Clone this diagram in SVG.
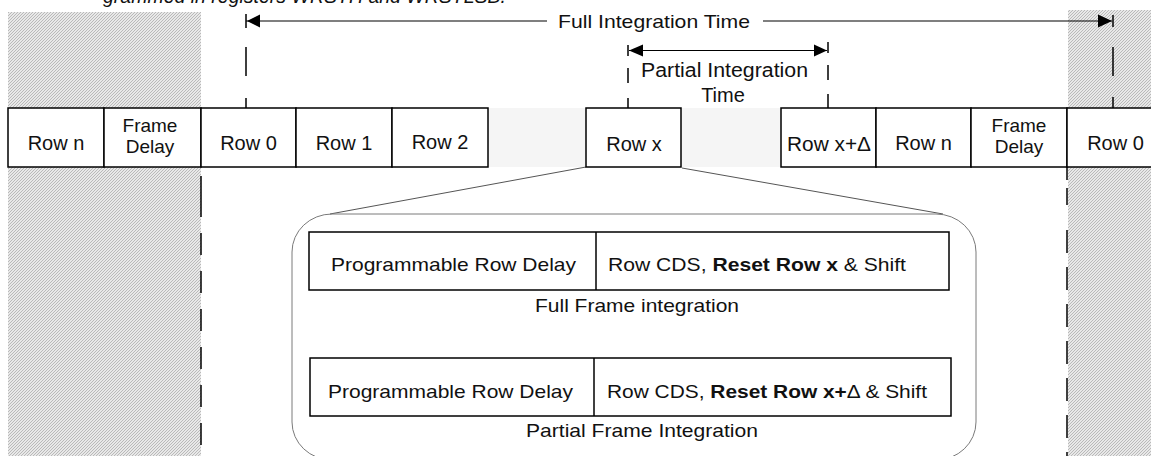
<svg xmlns="http://www.w3.org/2000/svg" width="1151" height="456" viewBox="0 0 1151 456">
<style>
text{font-family:"Liberation Sans",Arial,sans-serif;fill:#111;}
.lbl{font-size:20px;text-anchor:middle;}
.fd{font-size:19px;text-anchor:middle;}
.in{font-size:18.5px;}
.box{fill:#fff;stroke:#000;stroke-width:1.5;}
.dash{stroke:#000;stroke-width:1.5;fill:none;}
.thin{stroke:#000;stroke-width:1.2;fill:none;}
.gap{fill:#f5f5f5;}
.hatch{fill:url(#hp);}
</style>
<defs>
<pattern id="hp" width="3" height="3" patternUnits="userSpaceOnUse">
<rect width="3" height="3" fill="#e8e8e8"/>
<path d="M-1,1 l2,-2 M0,3 l3,-3 M2,4 l2,-2" stroke="#adadad" stroke-width="0.8"/>
</pattern>
</defs>
<text x="103" y="3" font-size="20" font-style="italic" textLength="403" lengthAdjust="spacingAndGlyphs">grammed in registers WRSTH and WRSTLSB.</text>
<g id="hatch-left"><rect class="hatch" x="8" y="12" width="193" height="444"/></g>
<g id="hatch-right"><rect class="hatch" x="1068" y="10" width="83" height="446"/></g>
<g id="gaps">
<rect class="gap" x="488" y="108" width="98" height="59"/>
<rect class="gap" x="681" y="108" width="100" height="59"/>
</g>
<g id="connectors">
<line class="dash" x1="246" y1="14" x2="246" y2="28"/>
<line class="dash" x1="246" y1="47" x2="246" y2="108" stroke-dasharray="29 22"/>
<line class="dash" x1="1113" y1="15" x2="1113" y2="27"/>
<line class="dash" x1="1113" y1="47" x2="1113" y2="108" stroke-dasharray="29 21"/>
<line class="dash" x1="628" y1="45" x2="628" y2="56"/>
<line class="dash" x1="628" y1="68" x2="628" y2="108" stroke-dasharray="15 15"/>
<line class="dash" x1="828" y1="42" x2="828" y2="53"/>
<line class="dash" x1="828" y1="65" x2="828" y2="108" stroke-dasharray="15 14"/>
<line class="dash" x1="201" y1="176" x2="201" y2="456" stroke-dasharray="41 16 22 16 22 16 22 16 22 16 22 16 22 16"/>
<line class="dash" x1="1067" y1="167" x2="1067" y2="456" stroke-dasharray="13 8 17 25 23 14 23 14 23 14 23 14 23 14 23 14 23"/>
<line class="thin" x1="246" y1="21" x2="547" y2="21"/>
<line class="thin" x1="763" y1="21" x2="1112" y2="21"/>
<polygon points="247,21 260,14.5 260,27.5" fill="#000"/>
<polygon points="1112,21 1098,14.5 1098,27.5" fill="#000"/>
<line class="thin" x1="629" y1="50.5" x2="827" y2="50.5"/>
<polygon points="629,50.5 643,44.5 643,56.5" fill="#000"/>
<polygon points="827,50.5 814,44.5 814,56.5" fill="#000"/>
<line x1="586" y1="167" x2="330" y2="214" stroke="#555" stroke-width="1"/>
<line x1="682" y1="168" x2="943" y2="214" stroke="#555" stroke-width="1"/>
</g>
<g id="labels-top">
<text x="558" y="28" font-size="19" textLength="192" lengthAdjust="spacingAndGlyphs">Full Integration Time</text>
<text x="641" y="77" font-size="20" textLength="167" lengthAdjust="spacingAndGlyphs">Partial Integration</text>
<text x="723" y="101.5" font-size="20" text-anchor="middle">Time</text>
</g>
<g id="row-n-left"><rect class="box" x="8" y="108" width="96" height="59"/><text class="lbl" x="56" y="150">Row n</text></g>
<g id="frame-delay-left"><rect class="box" x="104" y="108" width="97" height="59"/><text class="fd" x="150" y="131.5">Frame</text><text class="fd" x="150" y="153">Delay</text></g>
<g id="row-0-left"><rect class="box" x="201" y="108" width="95" height="59"/><text class="lbl" x="248.5" y="150">Row 0</text></g>
<g id="row-1"><rect class="box" x="296" y="108" width="96" height="59"/><text class="lbl" x="344" y="150">Row 1</text></g>
<g id="row-2"><rect class="box" x="392" y="108" width="96" height="59"/><text class="lbl" x="440" y="149">Row 2</text></g>
<g id="row-x"><rect class="box" x="586" y="108" width="95" height="59"/><text class="lbl" x="634" y="151">Row x</text></g>
<g id="row-x-delta"><rect class="box" x="781" y="108" width="95" height="59"/><text x="787" y="151" font-size="20" textLength="84" lengthAdjust="spacingAndGlyphs">Row x+Δ</text></g>
<g id="row-n-right"><rect class="box" x="876" y="108" width="95" height="59"/><text class="lbl" x="923.5" y="150">Row n</text></g>
<g id="frame-delay-right"><rect class="box" x="971" y="108" width="96" height="59"/><text class="fd" x="1019" y="131.5">Frame</text><text class="fd" x="1019" y="153">Delay</text></g>
<g id="row-0-right"><rect class="box" x="1067" y="108" width="100" height="59"/><text class="lbl" x="1115.5" y="150">Row 0</text></g>
<g id="detail-bubble">
<rect x="292" y="214" width="684" height="246" rx="40" ry="38" fill="none" stroke="#7a7a7a" stroke-width="1"/>
</g>
<g id="full-frame">
<rect class="box" x="309" y="232" width="640" height="58"/>
<line x1="596" y1="232" x2="596" y2="290" stroke="#000" stroke-width="1.5"/>
<text class="in" x="331" y="271" textLength="245" lengthAdjust="spacingAndGlyphs">Programmable Row Delay</text>
<text class="in" x="608" y="271" textLength="298" lengthAdjust="spacingAndGlyphs">Row CDS, <tspan font-weight="bold">Reset Row x</tspan> &amp; Shift</text>
<text class="in" x="535" y="311.5" textLength="204" lengthAdjust="spacingAndGlyphs">Full Frame integration</text>
</g>
<g id="partial-frame">
<rect class="box" x="310" y="358" width="641" height="58"/>
<line x1="594" y1="358" x2="594" y2="416" stroke="#000" stroke-width="1.5"/>
<text class="in" x="328" y="397.5" textLength="245" lengthAdjust="spacingAndGlyphs">Programmable Row Delay</text>
<text class="in" x="607" y="397.5" textLength="320" lengthAdjust="spacingAndGlyphs">Row CDS, <tspan font-weight="bold">Reset Row x+</tspan>Δ &amp; Shift</text>
<text class="in" x="526" y="436.5" textLength="232" lengthAdjust="spacingAndGlyphs">Partial Frame Integration</text>
</g>
</svg>
